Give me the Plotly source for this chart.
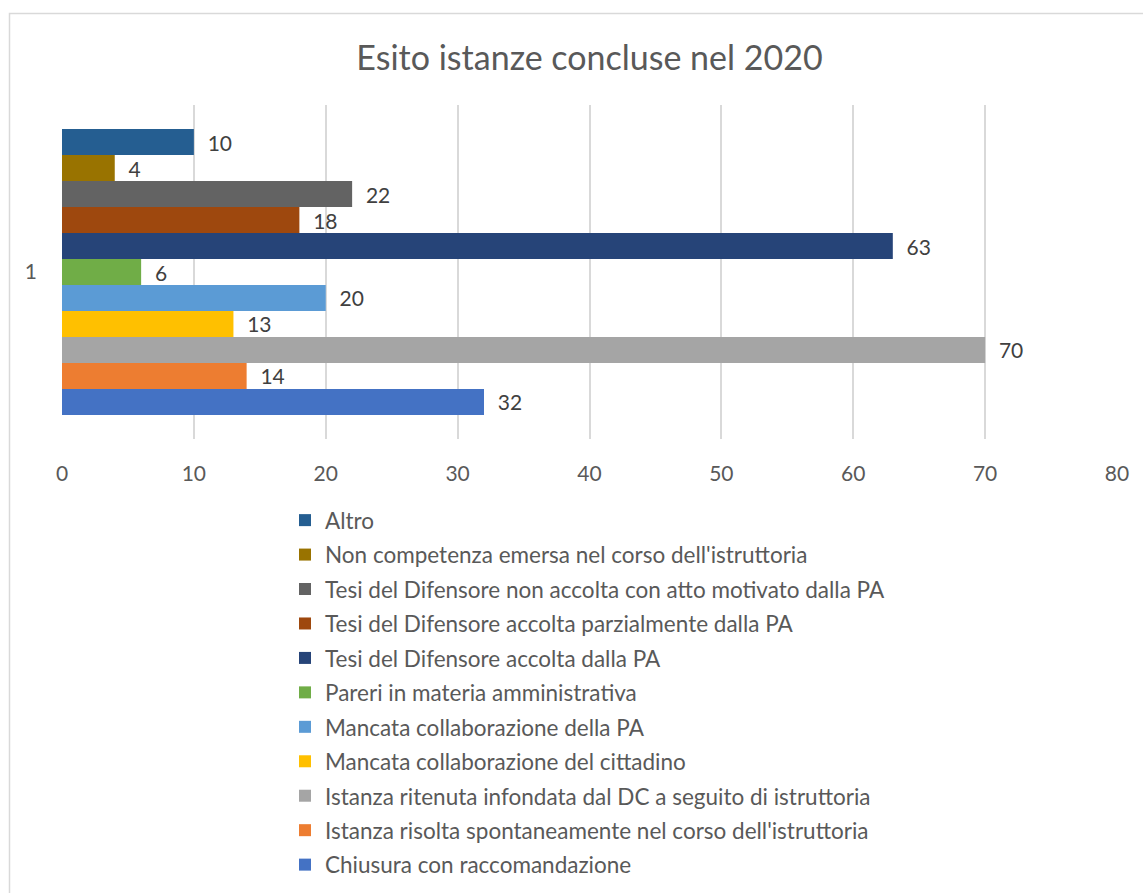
import plotly.graph_objects as go

# Outcome of requests closed in 2020 (single category "1")
categories = ["1"]
series_names = [
    "Chiusura con raccomandazione",
    "Istanza risolta spontaneamente nel corso dell'istruttoria",
    "Istanza ritenuta infondata dal DC a seguito di istruttoria",
    "Mancata collaborazione del cittadino",
    "Mancata collaborazione della PA",
    "Pareri in materia amministrativa",
    "Tesi del Difensore accolta dalla PA",
    "Tesi del Difensore accolta parzialmente dalla PA",
    "Tesi del Difensore non accolta con atto motivato dalla PA",
    "Non competenza emersa nel corso dell'istruttoria",
    "Altro",
]
series_values = [32, 14, 70, 13, 20, 6, 63, 18, 22, 4, 10]
series_colors = [
    "#4472C4", "#ED7D31", "#A5A5A5", "#FFC000", "#5B9BD5", "#70AD47",
    "#264478", "#9E480E", "#636363", "#997300", "#255E91",
]
x_ticks = [0, 10, 20, 30, 40, 50, 60, 70, 80]

FONT = "Lato"
TEXT_COLOR = "#595959"

n = len(series_names)
fig = go.Figure()
for i, (name, val, col) in enumerate(zip(series_names, series_values, series_colors)):
    fig.add_trace(go.Bar(
        x=[val], y=categories, name=name, orientation="h",
        marker=dict(color=col, line=dict(width=0)),
        text=[val], texttemplate="\u00a0\u00a0%{x}",
        textposition="outside", cliponaxis=False,
        textfont=dict(family=FONT, size=21, color="#404040"),
        legendgroup=f"g{i}", legendrank=n - i,
    ))

L, R, T, B = 62, 26, 105, 454
W, H = 1143, 893
pw, ph = W - L - R, H - T - B

def px_x(p):
    return (p - L) / pw

def px_y(p):
    return (H - B - p) / ph

fig.update_layout(
    width=W, height=H,
    margin=dict(l=L, r=R, t=T, b=B, pad=0, autoexpand=False),
    paper_bgcolor="white", plot_bgcolor="white",
    barmode="group", bargap=0.144, bargroupgap=0,
    font=dict(family=FONT, color=TEXT_COLOR),
    title=dict(text="Esito istanze concluse nel 2020", x=0.5, xref="paper",
               xanchor="center", y=1 - 58 / H, yanchor="middle",
               font=dict(family=FONT, size=34, color=TEXT_COLOR)),
    xaxis=dict(range=[0, 80], tickvals=x_ticks, showgrid=True,
               gridcolor="#D9D9D9", gridwidth=1.5, zeroline=False,
               showline=False, ticks="", ticklabelstandoff=20,
               tickfont=dict(family=FONT, size=21, color=TEXT_COLOR)),
    yaxis=dict(showgrid=False, zeroline=False, showline=False, ticks="",
               ticklabelstandoff=24,
               tickfont=dict(family=FONT, size=21, color=TEXT_COLOR)),
    showlegend=True,
    legend=dict(orientation="v", traceorder="grouped",
                x=px_x(285), xanchor="left",
                yref="container", y=1 - 499 / H, yanchor="top",
                tracegroupgap=2.2, itemclick=False,
                font=dict(family=FONT, size=22.5, color=TEXT_COLOR),
                bgcolor="rgba(0,0,0,0)"),
    shapes=[dict(type="rect", xref="paper", yref="paper",
                 x0=px_x(9.5), x1=px_x(1160), y0=px_y(920), y1=px_y(13.5),
                 line=dict(color="#D9D9D9", width=1.5), fillcolor="rgba(0,0,0,0)",
                 layer="below")],
)

fig.write_html("out.html")
